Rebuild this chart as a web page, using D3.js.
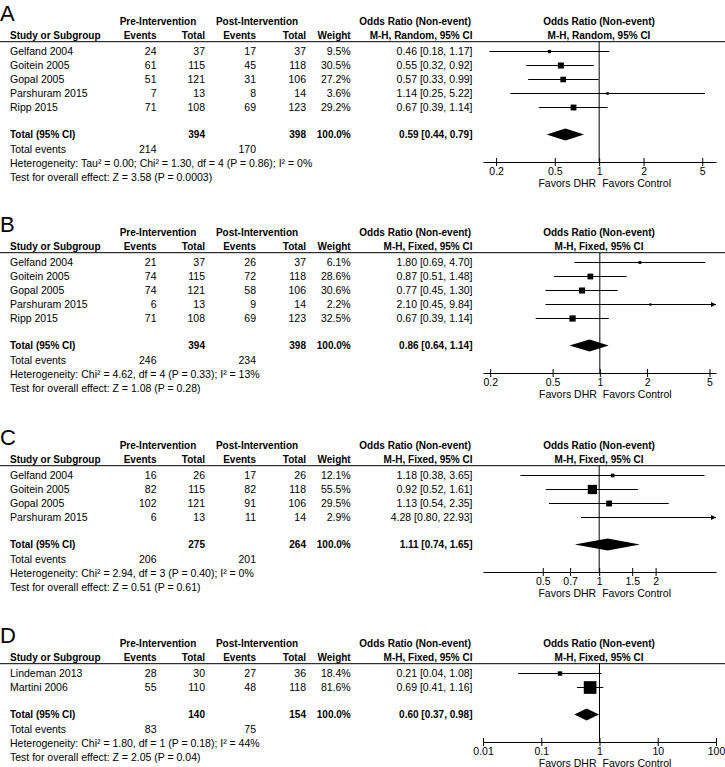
<!DOCTYPE html>
<html>
<head>
<meta charset="utf-8">
<script src="https://cdn.jsdelivr.net/npm/d3@7"></script>
<style>
  html, body { margin: 0; padding: 0; background: #fff; }
  svg { display: block; }
  text { font-family: "Liberation Sans", Arial, sans-serif; fill: #000; }
</style>
</head>
<body>
<script>
// ---------------- DATA ----------------
const panelLetters = ["A", "B", "C", "D"];
const studies = [
  ["Gelfand 2004", "Goitein 2005", "Gopal 2005", "Parshuram 2015", "Ripp 2015"],
  ["Gelfand 2004", "Goitein 2005", "Gopal 2005", "Parshuram 2015", "Ripp 2015"],
  ["Gelfand 2004", "Goitein 2005", "Gopal 2005", "Parshuram 2015"],
  ["Lindeman 2013", "Martini 2006"]
];
const preEvents  = [[24, 61, 51, 7, 71], [21, 74, 74, 6, 71], [16, 82, 102, 6], [28, 55]];
const preTotal   = [[37, 115, 121, 13, 108], [37, 115, 121, 13, 108], [26, 115, 121, 13], [30, 110]];
const postEvents = [[17, 45, 31, 8, 69], [26, 72, 58, 9, 69], [17, 82, 91, 11], [27, 48]];
const postTotal  = [[37, 118, 106, 14, 123], [37, 118, 106, 14, 123], [26, 118, 106, 14], [36, 118]];
const weights    = [[9.5, 30.5, 27.2, 3.6, 29.2], [6.1, 28.6, 30.6, 2.2, 32.5], [12.1, 55.5, 29.5, 2.9], [18.4, 81.6]];
const oddsRatio  = [[0.46, 0.55, 0.57, 1.14, 0.67], [1.80, 0.87, 0.77, 2.10, 0.67], [1.18, 0.92, 1.13, 4.28], [0.21, 0.69]];
const ciLow      = [[0.18, 0.32, 0.33, 0.25, 0.39], [0.69, 0.51, 0.45, 0.45, 0.39], [0.38, 0.52, 0.54, 0.80], [0.04, 0.41]];
const ciHigh     = [[1.17, 0.92, 0.99, 5.22, 1.14], [4.70, 1.48, 1.30, 9.84, 1.14], [3.65, 1.61, 2.35, 22.93], [1.08, 1.16]];

const totalPre        = [394, 394, 275, 140];
const totalPost       = [398, 398, 264, 154];
const totalEventsPre  = [214, 246, 206, 83];
const totalEventsPost = [170, 234, 201, 75];
const pooledOR   = [0.59, 0.86, 1.11, 0.60];
const pooledLow  = [0.44, 0.64, 0.74, 0.37];
const pooledHigh = [0.79, 1.14, 1.65, 0.98];

const methodLabels = ["M-H, Random, 95% CI", "M-H, Fixed, 95% CI", "M-H, Fixed, 95% CI", "M-H, Fixed, 95% CI"];
const heterogeneity = [
  "Heterogeneity: Tau\u00B2 = 0.00; Chi\u00B2 = 1.30, df = 4 (P = 0.86); I\u00B2 = 0%",
  "Heterogeneity: Chi\u00B2 = 4.62, df = 4 (P = 0.33); I\u00B2 = 13%",
  "Heterogeneity: Chi\u00B2 = 2.94, df = 3 (P = 0.40); I\u00B2 = 0%",
  "Heterogeneity: Chi\u00B2 = 1.80, df = 1 (P = 0.18); I\u00B2 = 44%"
];
const overallEffect = [
  "Test for overall effect: Z = 3.58 (P = 0.0003)",
  "Test for overall effect: Z = 1.08 (P = 0.28)",
  "Test for overall effect: Z = 0.51 (P = 0.61)",
  "Test for overall effect: Z = 2.05 (P = 0.04)"
];
const tickValues = [[0.2, 0.5, 1, 2, 5], [0.2, 0.5, 1, 2, 5], [0.5, 0.7, 1, 1.5, 2], [0.01, 0.1, 1, 10, 100]];
const axisDomains = [[0.163, 6.2], [0.18, 5.5], [0.24, 4.2], [0.01, 100]];
const favorLabels = ["Favors DHR", "Favors Control"];

// ---------------- LAYOUT ----------------
const W = 725, H = 767;
const panelTop = [0, 211, 424, 622];
const NORMAL = 10.5, BOLD = 10;
const col = { name: 10, preEv: 156.5, preTot: 205, postEv: 256, postTot: 306, weight: 350.7, ci: 472.5 };
const plotRange = [483, 716];
const f2 = d3.format(".2f"), f1 = d3.format(".1f");

const svg = d3.select("body").append("svg").attr("width", W).attr("height", H);

function txt(g, x, y, s, opts = {}) {
  return g.append("text")
    .attr("x", x).attr("y", y)
    .attr("text-anchor", opts.anchor || "start")
    .style("font-size", (opts.bold ? BOLD : NORMAL) + "px")
    .style("font-weight", opts.bold ? "bold" : "normal")
    .text(s);
}

const sizeScale = d3.scaleLinear().domain([0, 100]).range([2, 15.1]);

panelLetters.forEach((letter, p) => {
  const g = svg.append("g").attr("transform", `translate(0,${panelTop[p]})`);
  const x = d3.scaleLog().domain(axisDomains[p]).range(plotRange);

  g.append("text").attr("x", 0).attr("y", 20.5)
    .style("font-size", "22px").text(letter);

  // headers
  txt(g, 158, 25, "Pre-Intervention", { bold: true, anchor: "middle" });
  txt(g, 257, 25, "Post-Intervention", { bold: true, anchor: "middle" });
  txt(g, 471, 25, "Odds Ratio (Non-event)", { bold: true, anchor: "end" });
  txt(g, 599, 25, "Odds Ratio (Non-event)", { bold: true, anchor: "middle" });
  txt(g, col.name, 38.5, "Study or Subgroup", { bold: true });
  txt(g, col.preEv, 38.5, "Events", { bold: true, anchor: "end" });
  txt(g, col.preTot, 38.5, "Total", { bold: true, anchor: "end" });
  txt(g, col.postEv, 38.5, "Events", { bold: true, anchor: "end" });
  txt(g, col.postTot, 38.5, "Total", { bold: true, anchor: "end" });
  txt(g, col.weight, 38.5, "Weight", { bold: true, anchor: "end" });
  txt(g, 472.5, 38.5, methodLabels[p], { bold: true, anchor: "end" });
  txt(g, 599, 38.5, methodLabels[p], { bold: true, anchor: "middle" });

  g.append("line").attr("x1", 0).attr("x2", W).attr("y1", 41.7).attr("y2", 41.7)
    .attr("stroke", "#000").attr("stroke-width", 1);

  const n = studies[p].length;
  const rowBase = i => 55 + 14 * i;
  const totalBase = rowBase(n - 1) + 27;
  const axisY = totalBase - 3.5 + 27.5;

  // vertical line of no effect
  g.append("line").attr("x1", x(1)).attr("x2", x(1)).attr("y1", 41.7).attr("y2", axisY)
    .attr("stroke", "#000").attr("stroke-width", 1);

  studies[p].forEach((name, i) => {
    const yb = rowBase(i), yc = yb - 3.5;
    txt(g, col.name, yb, name);
    txt(g, col.preEv, yb, preEvents[p][i], { anchor: "end" });
    txt(g, col.preTot, yb, preTotal[p][i], { anchor: "end" });
    txt(g, col.postEv, yb, postEvents[p][i], { anchor: "end" });
    txt(g, col.postTot, yb, postTotal[p][i], { anchor: "end" });
    txt(g, col.weight, yb, f1(weights[p][i]) + "%", { anchor: "end" });
    txt(g, col.ci, yb, `${f2(oddsRatio[p][i])} [${f2(ciLow[p][i])}, ${f2(ciHigh[p][i])}]`, { anchor: "end" });

    const [d0, d1] = axisDomains[p];
    const lo = Math.max(ciLow[p][i], d0), hi = Math.min(ciHigh[p][i], d1);
    g.append("line").attr("x1", x(lo)).attr("x2", x(hi)).attr("y1", yc).attr("y2", yc)
      .attr("stroke", "#000").attr("stroke-width", 1);
    if (ciHigh[p][i] > d1) {
      const xe = x(d1);
      g.append("path").attr("d", `M${xe - 5},${yc - 2.5}L${xe},${yc}L${xe - 5},${yc + 2.5}Z`).attr("fill", "#000");
    }
    if (ciLow[p][i] < d0) {
      const xs = x(d0);
      g.append("path").attr("d", `M${xs + 5},${yc - 2.5}L${xs},${yc}L${xs + 5},${yc + 2.5}Z`).attr("fill", "#000");
    }
    const or = oddsRatio[p][i];
    if (or >= d0 && or <= d1 && x(or) < plotRange[1] - 6) {
      const s = sizeScale(weights[p][i]);
      g.append("rect").attr("x", x(or) - s / 2).attr("y", yc - s / 2)
        .attr("width", s).attr("height", s).attr("fill", "#000");
    }
  });

  // total row
  txt(g, col.name, totalBase, "Total (95% CI)", { bold: true });
  txt(g, col.preTot, totalBase, totalPre[p], { bold: true, anchor: "end" });
  txt(g, col.postTot, totalBase, totalPost[p], { bold: true, anchor: "end" });
  txt(g, col.weight, totalBase, "100.0%", { bold: true, anchor: "end" });
  txt(g, col.ci, totalBase, `${f2(pooledOR[p])} [${f2(pooledLow[p])}, ${f2(pooledHigh[p])}]`, { bold: true, anchor: "end" });
  const tc = totalBase - 3.5;
  g.append("path")
    .attr("d", `M${x(pooledLow[p])},${tc}L${x(pooledOR[p])},${tc - 6}L${x(pooledHigh[p])},${tc}L${x(pooledOR[p])},${tc + 6}Z`)
    .attr("fill", "#000");

  const evBase = totalBase + 14.5;
  txt(g, col.name, evBase, "Total events");
  txt(g, col.preEv, evBase, totalEventsPre[p], { anchor: "end" });
  txt(g, col.postEv, evBase, totalEventsPost[p], { anchor: "end" });
  txt(g, col.name, evBase + 14.3, heterogeneity[p]);
  txt(g, col.name, evBase + 28.3, overallEffect[p]);

  // axis
  const axis = d3.axisBottom(x).tickValues(tickValues[p]).tickFormat(d => String(d))
    .tickSize(4).tickSizeOuter(0).tickPadding(1.5);
  const ag = g.append("g").attr("transform", `translate(0,${axisY})`).call(axis);
  ag.select(".domain").attr("stroke", "#000");
  ag.selectAll(".tick line").attr("y1", -4).attr("y2", 4).attr("stroke", "#000");
  ag.selectAll(".tick text").attr("font-family", null).style("font-size", NORMAL + "px").attr("fill", "#000");

  txt(g, x(1) - 3, axisY + 24.5, favorLabels[0], { anchor: "end" });
  txt(g, x(1) + 3, axisY + 24.5, favorLabels[1]);
});
</script>
</body>
</html>
